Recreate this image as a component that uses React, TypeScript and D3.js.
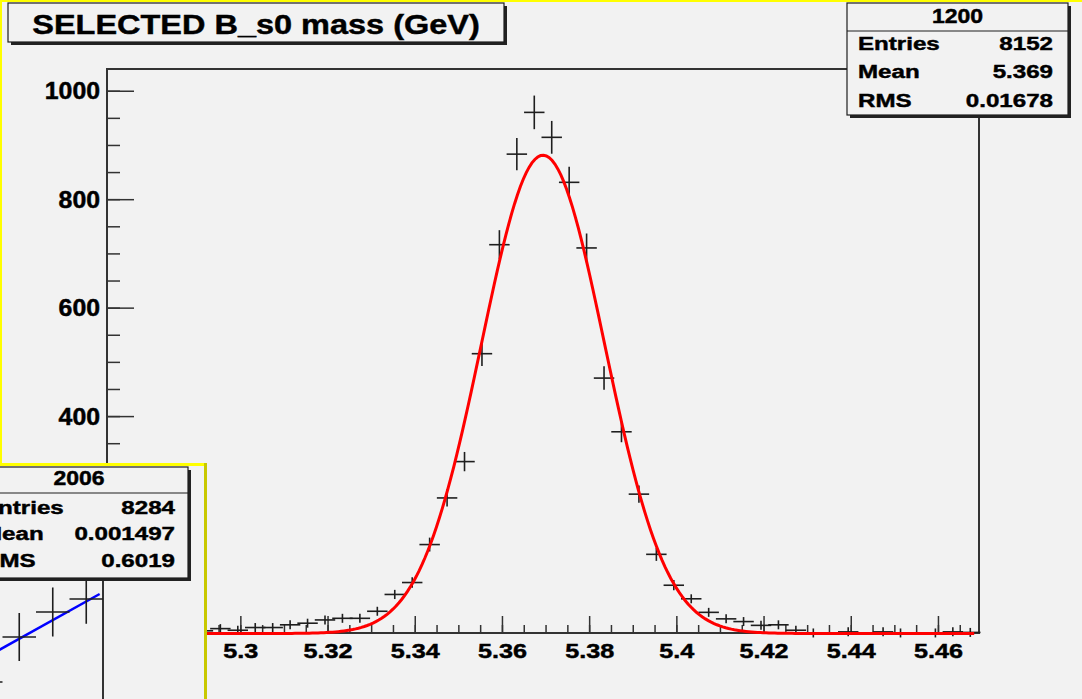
import React from "react";
import * as d3 from "d3";

// main histogram: 50 bins of 0.004 GeV starting at massLow
const massLow = 5.2693;
const massHigh = 5.4693;
const binWidth = 0.004;
const massCounts = [
	2, 3, 3, 4, 4, 5, 9, 6, 11, 11, 16, 19, 25, 28, 28, 41, 72, 94, 164, 250,
	317, 516, 717, 884, 961, 915, 832, 711, 471, 372, 257, 146, 89, 64, 39, 27,
	22, 15, 16, 6, 1, 0, 3, 0, 3, 1, 0, 1, 3, 2,
];
const yMax = 1041;

// gaussian fit drawn in red
const fitAmp = 882;
const fitMean = 5.3693;
const fitSigma = 0.0141;
const fitRange = [5.2693, 5.4682];

const xMajorTicks = [5.28, 5.3, 5.32, 5.34, 5.36, 5.38, 5.4, 5.42, 5.44, 5.46];
const xTickLabels = ["5.28", "5.3", "5.32", "5.34", "5.36", "5.38", "5.4", "5.42", "5.44", "5.46"];
const yMajorTicks = [0, 200, 400, 600, 800, 1000];
const yTickLabels = ["0", "200", "400", "600", "800", "1000"];

const titleText = "SELECTED B_s0 mass (GeV)";
const statLabels = ["Entries", "Mean", "RMS"];
const mainStatName = "1200";
const mainStatValues = ["8152", "5.369", "0.01678"];

// the small pad in the lower left corner
const insetStatName = "2006";
const insetStatValues = ["8284", "0.001497", "0.6019"];
const insetBinCenters = [2.65, 2.75, 2.85, 2.95];
const insetCounts = [531, 576, 601, 614];
const insetBinWidth = 0.1;
const insetFitX = [2.69, 2.99];
const insetFitY = [563, 619];

const W = 1082;
const H = 699;
const BG = "#f2f2f2";
const FONT = "'Liberation Sans', Arial, Helvetica, sans-serif";
const INK = "#1e1e1e";

function Label({ x, y, size, sx = 1, anchor = "start", children }) {
	return (
		<text
			transform={`translate(${x},${y}) scale(${sx},1)`}
			textAnchor={anchor}
			fontSize={size}
			fontWeight="bold"
			fontFamily={FONT}
			fill="#000"
			stroke="#000"
			strokeWidth={0.45}
		>
			{children}
		</text>
	);
}

function StatsBox({ x0, y0, w, h, headerY, name, values, rowY, labelX, valueX }) {
	return (
		<g>
			<rect x={x0 + 3} y={y0 + 3} width={w} height={h} fill="#222" />
			<rect x={x0} y={y0} width={w} height={h} fill={BG} stroke={INK} strokeWidth={1.2} />
			<line x1={x0} x2={x0 + w} y1={headerY} y2={headerY} stroke={INK} strokeWidth={1.2} />
			<Label x={x0 + w / 2} y={headerY - 8} size={20} sx={1.15} anchor="middle">
				{name}
			</Label>
			{statLabels.map((lab, i) => (
				<g key={lab}>
					<Label x={labelX} y={rowY(i)} size={19} sx={1.27}>
						{lab}
					</Label>
					<Label x={valueX} y={rowY(i)} size={19} sx={1.27} anchor="end">
						{values[i]}
					</Label>
				</g>
			))}
		</g>
	);
}

export default function App() {
	const x = d3.scaleLinear().domain([massLow, massHigh]).range([107, 979]);
	const y = d3.scaleLinear().domain([0, yMax]).range([633.5, 69]);

	const xMinor = d3
		.range(5.27, 5.4695, 0.005)
		.filter((v) => v > massLow && v < massHigh);
	const yMinor = d3.range(0, yMax, 50);

	const fitPts = d3
		.range(0, 301)
		.map((i) => fitRange[0] + ((fitRange[1] - fitRange[0]) * i) / 300);
	const fitLine = d3
		.line()
		.x((d) => x(d))
		.y((d) => y(fitAmp * Math.exp(-0.5 * ((d - fitMean) / fitSigma) ** 2)));

	const bins = massCounts.map((c, i) => {
		const lo = massLow + i * binWidth;
		return { lo, hi: lo + binWidth, mid: lo + binWidth / 2, c };
	});

	const ix = d3.scaleLinear().domain([2.0, 3.0]).range([-232, 103]);
	const iy = d3.scaleLinear().domain([0, 600]).range([1213, 613]);
	const insetLine = d3
		.line()
		.x((d) => ix(d[0]))
		.y((d) => iy(d[1]));

	return (
		<svg
			width={W}
			height={H}
			style={{ position: "absolute", left: 0, top: 0, display: "block" }}
		>
			<rect width={W} height={H} fill={BG} />

			{/* frame */}
			<rect x={107} y={69} width={872} height={564} fill="none" stroke="#333" strokeWidth={2} />

			{/* x axis ticks */}
			{xMinor.map((v) => (
				<line key={"xm" + v} x1={x(v)} x2={x(v)} y1={633} y2={625} stroke="#333" strokeWidth={1.5} />
			))}
			{xMajorTicks.map((v, i) => (
				<g key={"xM" + v}>
					<line x1={x(v)} x2={x(v)} y1={633} y2={616} stroke="#333" strokeWidth={1.5} />
					<Label x={x(v)} y={658} size={21} sx={1.2} anchor="middle">
						{xTickLabels[i]}
					</Label>
				</g>
			))}

			{/* y axis ticks */}
			{yMinor.map((v) => (
				<line key={"ym" + v} x1={107} x2={120} y1={y(v)} y2={y(v)} stroke="#333" strokeWidth={1.5} />
			))}
			{yMajorTicks.map((v, i) => (
				<g key={"yM" + v}>
					<line x1={107} x2={134} y1={y(v)} y2={y(v)} stroke="#333" strokeWidth={1.5} />
					<Label x={100} y={y(v) + 8} size={23} sx={1.08} anchor="end">
						{yTickLabels[i]}
					</Label>
				</g>
			))}

			{/* data points with error bars */}
			<g stroke={INK} strokeWidth={1.6}>
				{bins
					.filter((b) => b.c > 0)
					.map((b) => {
						const e = Math.max(y(0) - y(Math.sqrt(b.c)), 4.5);
						return (
							<g key={"b" + b.lo}>
								<line x1={x(b.lo) - 1.5} x2={x(b.hi) + 1.5} y1={y(b.c)} y2={y(b.c)} />
								<line x1={x(b.mid)} x2={x(b.mid)} y1={y(b.c) - e} y2={y(b.c) + e} />
							</g>
						);
					})}
			</g>

			{/* fit */}
			<path d={fitLine(fitPts)} fill="none" stroke="#ff0000" strokeWidth={3} />

			{/* title */}
			<rect x={11} y={6} width={496} height={39} fill="#222" />
			<rect x={8} y={3} width={496} height={39} fill={BG} stroke={INK} strokeWidth={1.2} />
			<Label x={256} y={33.5} size={28} sx={1.16} anchor="middle">
				{titleText}
			</Label>

			{/* stats */}
			<StatsBox
				x0={847}
				y0={3}
				w={221}
				h={112}
				headerY={31}
				name={mainStatName}
				values={mainStatValues}
				rowY={(i) => 50 + i * 28.3}
				labelX={858}
				valueX={1053}
			/>

			{/* inset pad */}
			<g>
				<rect x={-2} y={463} width={209} height={240} fill={BG} />
				<line x1={ix(3.0)} x2={ix(3.0)} y1={560} y2={H} stroke="#333" strokeWidth={2} />
				<path
					d={insetLine(insetFitX.map((v, i) => [v, insetFitY[i]]))}
					fill="none"
					stroke="#0000ff"
					strokeWidth={2.5}
				/>
				<g stroke={INK} strokeWidth={1.6}>
					{insetBinCenters.map((c, i) => {
						const n = insetCounts[i];
						const e = iy(0) - iy(Math.sqrt(n));
						return (
							<g key={"ib" + c}>
								<line
									x1={ix(c - insetBinWidth / 2)}
									x2={ix(c + insetBinWidth / 2)}
									y1={iy(n)}
									y2={iy(n)}
								/>
								<line x1={ix(c)} x2={ix(c)} y1={iy(n) - e} y2={iy(n) + e} />
							</g>
						);
					})}
				</g>
				<StatsBox
					x0={-30}
					y0={467}
					w={218}
					h={111}
					headerY={493}
					name={insetStatName}
					values={insetStatValues}
					rowY={(i) => 513.5 + i * 26.7}
					labelX={-18}
					valueX={175}
				/>
				<line x1={0} x2={207} y1={464.5} y2={464.5} stroke="#ffff00" strokeWidth={3} />
				<line x1={205.5} x2={205.5} y1={463} y2={H} stroke="#c8c800" strokeWidth={3} />
			</g>

			{/* canvas border */}
			<line x1={0} x2={W} y1={1} y2={1} stroke="#ffff00" strokeWidth={2} />
			<line x1={1} x2={1} y1={0} y2={463} stroke="#ffff00" strokeWidth={2} />
		</svg>
	);
}
